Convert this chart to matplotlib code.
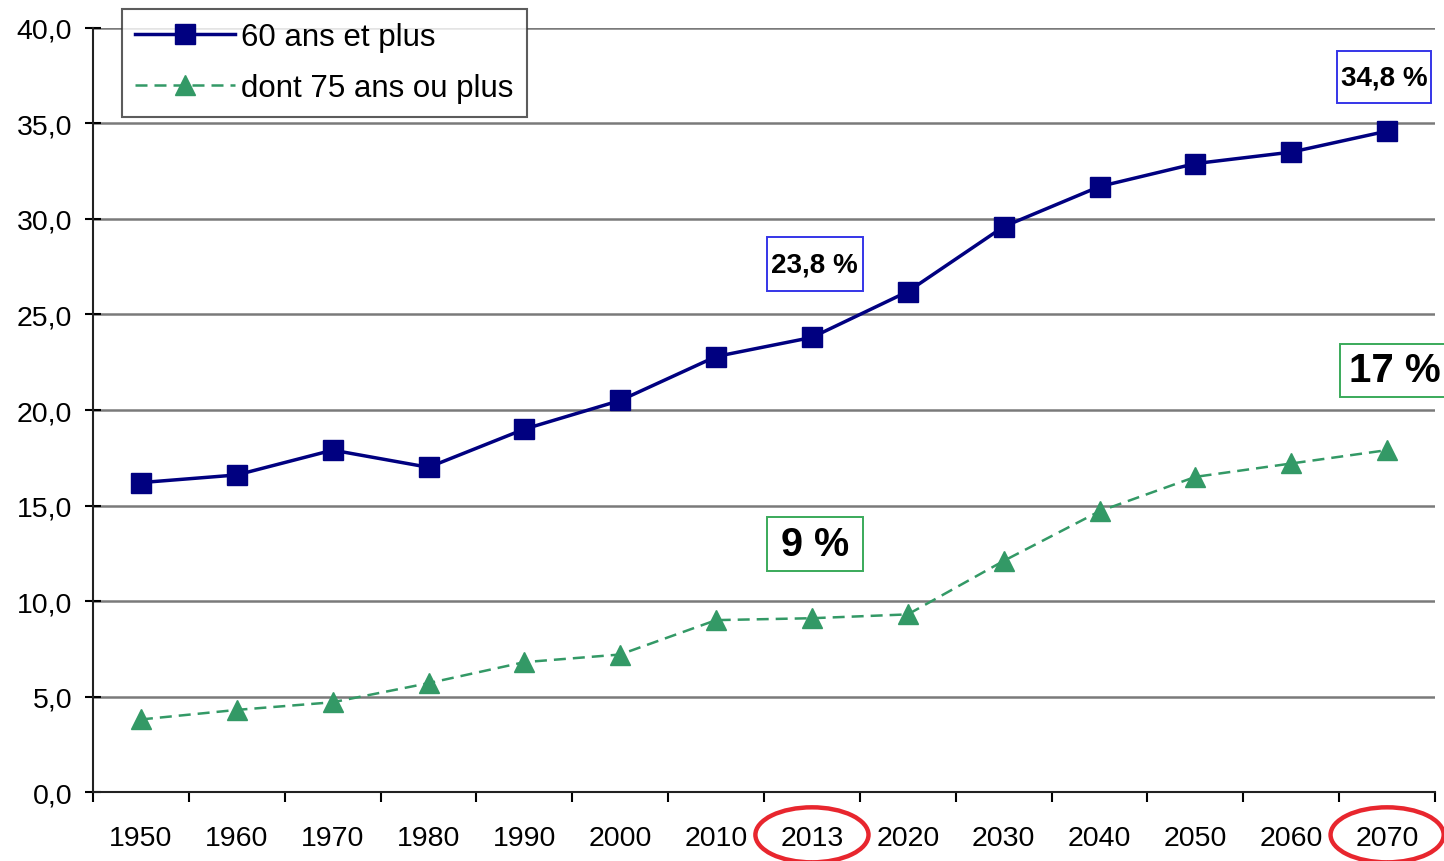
import matplotlib.pyplot as plt
import numpy as np
from matplotlib.patches import Ellipse, Rectangle
from matplotlib.ticker import FuncFormatter, MultipleLocator
import matplotlib.transforms as mtransforms

plt.rcParams['font.family'] = ['Liberation Sans', 'DejaVu Sans']

years = ['1950', '1960', '1970', '1980', '1990', '2000', '2010', '2013',
         '2020', '2030', '2040', '2050', '2060', '2070']
plus60 = [16.2, 16.6, 17.9, 17.0, 19.0, 20.5, 22.8, 23.8, 26.2, 29.6, 31.7, 32.9, 33.5, 34.6]
plus75 = [3.8, 4.3, 4.7, 5.7, 6.8, 7.2, 9.0, 9.1, 9.3, 12.1, 14.7, 16.5, 17.2, 17.9]
circled = ['2013', '2070']

navy = '#000080'
green = '#339966'
blue_box = '#3535e8'
green_box = '#3aaa5a'

fig = plt.figure(figsize=(14.44, 8.62), dpi=100)
ax = fig.add_axes([0.0644, 0.080, 0.9294, 0.8864])

x = np.arange(len(years))
ax.plot(x, plus60, color=navy, lw=2.5, marker='s', ms=15, label='60 ans et plus', zorder=4)
ax.plot(x, plus75, color=green, lw=1.8, ls=(0, (4.8, 2.8)), marker='^', ms=14,
        markeredgecolor=green, label='dont 75 ans ou plus', zorder=4)

ax.set_xlim(-0.5, len(years) - 0.5)
ax.set_ylim(0, 40)
ax.yaxis.set_major_locator(MultipleLocator(5))
ax.yaxis.set_major_formatter(FuncFormatter(lambda v, p: f'{v:.1f}'.replace('.', ',')))
ax.set_xticks(x)
ax.set_xticklabels(years)
ax.set_xticks(np.arange(-0.5, len(years)), minor=True)
ax.tick_params(axis='x', which='major', length=0, pad=24, labelsize=20.5)
ax.tick_params(axis='x', which='minor', length=7, width=1.5, direction='out')
ax.tick_params(axis='y', length=12, width=1.5, direction='inout', labelsize=20.5, pad=9)

for s in ['top', 'right']:
    ax.spines[s].set_visible(False)
for s in ['left', 'bottom']:
    ax.spines[s].set_linewidth(1.5)
    ax.spines[s].set_color('#222222')

for v in range(5, 41, 5):
    ax.axhline(v, color='#7a7a7a', lw=1.8, zorder=1)

leg = ax.legend(loc='upper left', bbox_to_anchor=(122 / 1444, 1 - 10 / 862),
                bbox_transform=fig.transFigure, fontsize=22.5, frameon=True,
                fancybox=False, handlelength=3.2, handletextpad=0.2,
                borderpad=0.42, labelspacing=0.68, borderaxespad=0)
leg.get_frame().set_edgecolor('#333333')
leg.get_frame().set_linewidth(1.5)
leg.set_zorder(5)


# annotation boxes: fixed-size frames with text inside
def label_box(xc, yc, w, h, txt, size, ec):
    ax.add_patch(Rectangle((xc - w / 2, yc - h / 2), w, h, fc='white', ec=ec, lw=1.4,
                           zorder=6, clip_on=False))
    ax.text(xc, yc, txt, ha='center', va='center', fontsize=size, fontweight='bold',
            zorder=7, clip_on=False)


i13 = years.index('2013')
i70 = years.index('2070')
label_box(i13 + 0.03, 27.64, 1.0, 2.83, '23,8 %', 20, blue_box)
label_box(i70 - 0.03, 37.43, 0.98, 2.72, '34,8 %', 20, blue_box)
label_box(i13 + 0.03, 12.98, 1.0, 2.83, '9 %', 28.5, green_box)
label_box(i70 + 0.08, 22.07, 1.14, 2.77, '17 %', 29, green_box)

# red circles around highlighted years
trans = mtransforms.blended_transform_factory(ax.transData, ax.transAxes)
for yr in circled:
    e = Ellipse((years.index(yr), -0.056), width=1.18, height=0.072, transform=trans,
                fill=False, ec='#e8262e', lw=3.2, clip_on=False, zorder=8)
    ax.add_patch(e)

fig.savefig('out.png', dpi=100)
